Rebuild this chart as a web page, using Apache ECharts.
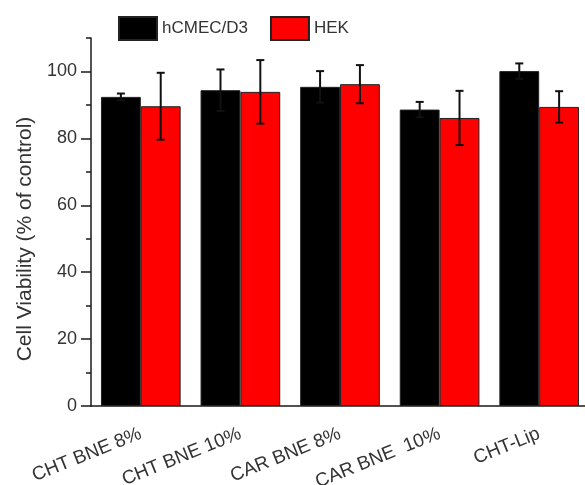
<!DOCTYPE html>
<html>
<head>
<meta charset="utf-8">
<script src="https://cdn.jsdelivr.net/npm/echarts@6/dist/echarts.min.js"></script>
<style>
  html, body { margin: 0; padding: 0; background: #fff; }
  #chart { width: 585px; height: 485px; }
</style>
</head>
<body>
<div id="chart"></div>
<script>
// Formulations tested
const categories = ['CHT BNE 8%', 'CHT BNE 10%', 'CAR BNE 8%', 'CAR BNE  10%', 'CHT-Lip'];
const seriesNames = ['hCMEC/D3', 'HEK'];

// Mean cell viability (% of control) and error (±)
const hcmecMean = [92.4, 94.4, 95.4, 88.6, 100.1];
const hcmecErr  = [1.0, 6.2, 4.7, 2.3, 2.3];
const hekMean   = [89.6, 93.9, 96.2, 86.1, 89.4];
const hekErr    = [10.0, 9.5, 5.7, 8.1, 4.7];

// Y axis ticks
const yMajorTicks = [0, 20, 40, 60, 80, 100];
const yMinorTicks = [10, 30, 50, 70, 90, 110];
const yMax = 110;

const FONT = '"Liberation Sans", Arial, sans-serif';
const TEXT = '#333';
const AXIS = '#1a1a1a';

// Error bars drawn over each bar; side -1 = left bar of the pair, +1 = right bar
function errorSeries(means, errs, side) {
  return {
    type: 'custom',
    xAxisIndex: 0,
    yAxisIndex: 0,
    z: 10,
    silent: true,
    data: means.map((m, i) => [i, m - errs[i], m + errs[i]]),
    renderItem(params, api) {
      const i = api.value(0);
      const lo = api.coord([i, api.value(1)]);
      const hi = api.coord([i, api.value(2)]);
      const band = api.size([1, 0])[0];
      const x = lo[0] + side * band * 0.2;
      const cap = 4;
      const style = { stroke: '#111', lineWidth: 2 };
      return {
        type: 'group',
        children: [
          { type: 'line', shape: { x1: x, y1: lo[1], x2: x, y2: hi[1] }, style },
          { type: 'line', shape: { x1: x - cap, y1: hi[1], x2: x + cap, y2: hi[1] }, style },
          { type: 'line', shape: { x1: x - cap, y1: lo[1], x2: x + cap, y2: lo[1] }, style }
        ]
      };
    }
  };
}

const chart = echarts.init(document.getElementById('chart'), null, { renderer: 'canvas' });

chart.setOption({
  animation: false,
  backgroundColor: '#fff',
  textStyle: { fontFamily: FONT },
  legend: {
    data: seriesNames,
    top: 16,
    left: 118,
    padding: 0,
    itemWidth: 38,
    itemHeight: 23,
    itemGap: 22,
    textStyle: { fontSize: 17, color: TEXT, fontFamily: FONT },
    icon: 'rect'
  },
  grid: { left: 91, width: 498, top: 38, bottom: 79, containLabel: false, outerBoundsMode: 'none' },
  xAxis: [
    {
      type: 'category',
      data: categories,
      position: 'bottom',
      axisLine: { lineStyle: { color: AXIS, width: 1.5 } },
      axisTick: { alignWithLabel: true, length: 7, lineStyle: { color: AXIS, width: 1.5 } },
      axisLabel: {
        rotate: 22,
        margin: 27,
        fontSize: 19,
        color: TEXT,
        fontFamily: FONT,
        interval: 0
      },
      splitLine: { show: false }
    },
    {
      type: 'category',
      data: categories,
      position: 'bottom',
      axisLine: { show: false },
      axisTick: { alignWithLabel: false, length: 4, lineStyle: { color: AXIS, width: 1.5 } },
      axisLabel: { show: false },
      splitLine: { show: false }
    }
  ],
  yAxis: [
    {
      type: 'value',
      min: 0,
      max: yMax,
      interval: 20,
      position: 'left',
      name: 'Cell Viability (% of control)',
      nameLocation: 'middle',
      nameGap: 54,
      nameTextStyle: { fontSize: 21, color: TEXT, fontFamily: FONT, padding: [0, 34, 0, 0] },
      axisLine: { show: true, lineStyle: { color: AXIS, width: 1.5 } },
      axisTick: { show: true, length: 10, customValues: yMajorTicks, lineStyle: { color: AXIS, width: 1.5 } },
      axisLabel: { customValues: yMajorTicks, fontSize: 18, color: TEXT, margin: 14, fontFamily: FONT },
      splitLine: { show: false }
    },
    {
      type: 'value',
      min: 0,
      max: yMax,
      position: 'left',
      axisLine: { show: false },
      axisTick: { show: true, length: 5, customValues: yMinorTicks, lineStyle: { color: AXIS, width: 1.5 } },
      axisLabel: { show: false },
      splitLine: { show: false }
    }
  ],
  series: [
    {
      name: seriesNames[0],
      type: 'bar',
      data: hcmecMean,
      barWidth: '40%',
      barGap: '0%',
      barCategoryGap: '20%',
      itemStyle: { color: '#000', borderColor: '#222', borderWidth: 1 }
    },
    {
      name: seriesNames[1],
      type: 'bar',
      data: hekMean,
      barWidth: '40%',
      barGap: '0%',
      itemStyle: { color: '#ff0000', borderColor: '#222', borderWidth: 1 }
    },
    errorSeries(hcmecMean, hcmecErr, -1),
    errorSeries(hekMean, hekErr, 1)
  ]
});
</script>
</body>
</html>
